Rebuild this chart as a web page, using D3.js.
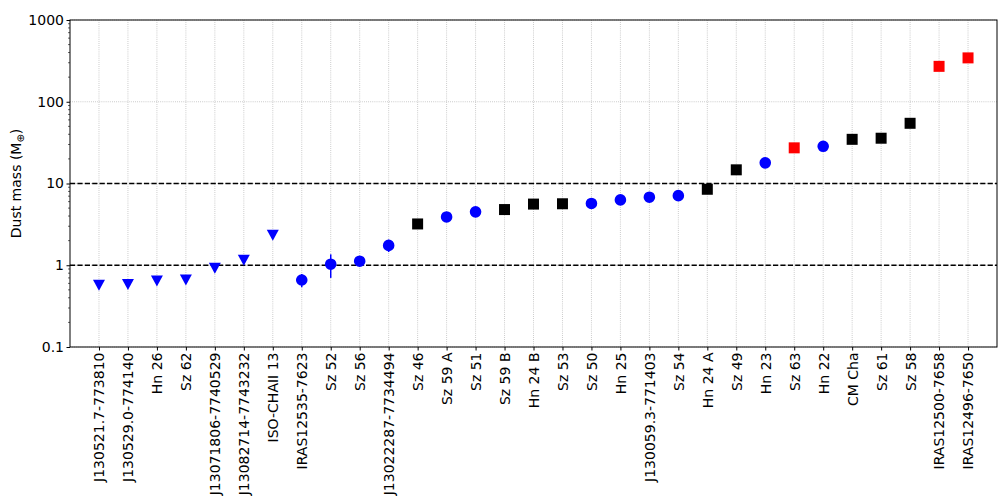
<!DOCTYPE html>
<html>
<head>
<meta charset="utf-8">
<script src="https://cdn.jsdelivr.net/npm/d3@7"></script>
<style>
  body { margin: 0; background: #fff; }
  text { font-family: "DejaVu Sans", sans-serif; }
</style>
</head>
<body>
<script>
// source names, in plotting order
var names = ["J130521.7-773810", "J130529.0-774140", "Hn 26", "Sz 62",
  "J13071806-7740529", "J13082714-7743232", "ISO-CHAII 13", "IRAS12535-7623",
  "Sz 52", "Sz 56", "J13022287-7734494", "Sz 46", "Sz 59 A", "Sz 51", "Sz 59 B",
  "Hn 24 B", "Sz 53", "Sz 50", "Hn 25", "J130059.3-771403", "Sz 54", "Hn 24 A",
  "Sz 49", "Hn 23", "Sz 63", "Hn 22", "CM Cha", "Sz 61", "Sz 58",
  "IRAS12500-7658", "IRAS12496-7650"];

// dust mass (earth masses)
var mass = [0.57, 0.58, 0.64, 0.66, 0.92, 1.15, 2.33, 0.66,
  1.03, 1.12, 1.75, 3.2, 3.9, 4.5, 4.8,
  5.6, 5.65, 5.7, 6.3, 6.8, 7.1, 8.5,
  14.7, 17.9, 27.3, 28.5, 34.7, 35.8, 54.5,
  271, 344];

// error on the mass (0 = none drawn)
var err = [0, 0, 0, 0, 0, 0, 0, 0.12,
  0.33, 0.12, 0.3, 0, 0, 0, 0,
  0, 0, 0, 0, 0, 0, 0,
  0, 0, 0, 0, 0, 0, 0,
  0, 0];

// marker kind: v = upper limit, o = blue circle, s = black square, r = red square
var kind = ["v", "v", "v", "v", "v", "v", "v", "o",
  "o", "o", "o", "s", "o", "o", "s",
  "s", "s", "o", "o", "o", "o", "s",
  "s", "o", "r", "o", "s", "s", "s",
  "r", "r"];

var yTicks = [0.1, 1, 10, 100, 1000];
var dashLines = [1, 10];

var margin = {top: 20, right: 11, bottom: 157, left: 70},
    width = 1008 - margin.left - margin.right,
    height = 504 - margin.top - margin.bottom;

var svg = d3.select("body").append("svg")
    .attr("width", 1008)
    .attr("height", 504);

var g = svg.append("g")
    .attr("transform", "translate(" + margin.left + "," + margin.top + ")");

var x = d3.scaleLinear().domain([-1, names.length]).range([0, width]);
var y = d3.scaleLog().domain([0.1, 1000]).range([height, 0]);

// grid
g.append("g").selectAll("line")
  .data(names)
  .enter().append("line")
  .attr("x1", function(d, i) { return x(i); })
  .attr("x2", function(d, i) { return x(i); })
  .attr("y1", 0).attr("y2", height)
  .attr("stroke", "#b0b0b0").attr("stroke-width", 0.8)
  .attr("stroke-dasharray", "0.8,1.3");

g.append("g").selectAll("line")
  .data(yTicks)
  .enter().append("line")
  .attr("x1", 0).attr("x2", width)
  .attr("y1", function(d) { return y(d); })
  .attr("y2", function(d) { return y(d); })
  .attr("stroke", "#b0b0b0").attr("stroke-width", 0.8)
  .attr("stroke-dasharray", "0.8,1.3");

// dashed reference lines
g.append("g").selectAll("line")
  .data(dashLines)
  .enter().append("line")
  .attr("x1", 0).attr("x2", width)
  .attr("y1", function(d) { return y(d); })
  .attr("y2", function(d) { return y(d); })
  .attr("stroke", "#000").attr("stroke-width", 1.4)
  .attr("stroke-dasharray", "5.2,2.2");

// error bars
var pts = names.map(function(n, i) {
  return {name: n, i: i, m: mass[i], e: err[i], k: kind[i]};
});

g.append("g").selectAll("line")
  .data(pts.filter(function(d) { return d.e > 0; }))
  .enter().append("line")
  .attr("x1", function(d) { return x(d.i); })
  .attr("x2", function(d) { return x(d.i); })
  .attr("y1", function(d) { return y(d.m + d.e); })
  .attr("y2", function(d) { return y(d.m - d.e); })
  .attr("stroke", "#0000ff").attr("stroke-width", 1.5);

// markers
var colors = {v: "#0000ff", o: "#0000ff", s: "#000000", r: "#ff0000"};
var marks = g.append("g").selectAll("path")
  .data(pts)
  .enter().append("path")
  .attr("transform", function(d) { return "translate(" + x(d.i) + "," + y(d.m) + ")"; })
  .attr("fill", function(d) { return colors[d.k]; })
  .attr("d", function(d) {
    if (d.k == "v") return "M-6,-5.5L6,-5.5L0,5.5Z";
    if (d.k == "o") return d3.symbol().type(d3.symbolCircle).size(Math.PI * 5.8 * 5.8)();
    return "M-5.5,-5.5H5.5V5.5H-5.5Z";
  });

// axes
var xAxis = d3.axisBottom(x)
  .tickValues(d3.range(names.length))
  .tickFormat(function(i) { return names[i]; })
  .tickSize(3.5).tickSizeOuter(0);

var gx = g.append("g")
  .attr("transform", "translate(0," + height + ")")
  .call(xAxis);
gx.select(".domain").remove();
gx.selectAll("text")
  .attr("transform", "rotate(-90)")
  .attr("x", -5.5).attr("y", 0).attr("dy", "0.35em")
  .style("text-anchor", "end")
  .style("font-size", "14px")
  .attr("fill", "#000");

var minor = [];
for (var p = -1; p < 3; p++) {
  for (var k = 2; k < 10; k++) minor.push(k * Math.pow(10, p));
}
g.append("g").selectAll("line")
  .data(minor)
  .enter().append("line")
  .attr("x1", -2).attr("x2", 0)
  .attr("y1", function(d) { return y(d); })
  .attr("y2", function(d) { return y(d); })
  .attr("stroke", "#000").attr("stroke-width", 0.6);

var gy = g.append("g")
  .call(d3.axisLeft(y).tickValues(yTicks)
    .tickFormat(function(d) { return d < 1 ? "0.1" : d3.format("d")(d); })
    .tickSize(3.5).tickSizeOuter(0));
gy.select(".domain").remove();
gy.selectAll("text").style("font-size", "14px").attr("fill", "#000").attr("x", -6);

// frame
g.append("rect")
  .attr("width", width).attr("height", height)
  .attr("fill", "none").attr("stroke", "#000").attr("stroke-width", 1);

// y label
var yl = svg.append("text")
  .attr("transform", "translate(21," + (margin.top + height / 2) + ") rotate(-90)")
  .style("text-anchor", "middle")
  .style("font-size", "14px");
yl.append("tspan").text("Dust mass (M");
yl.append("tspan").attr("dy", 3).style("font-size", "10px").text("\u2295");
yl.append("tspan").attr("dy", -3).text(")");
</script>
</body>
</html>
